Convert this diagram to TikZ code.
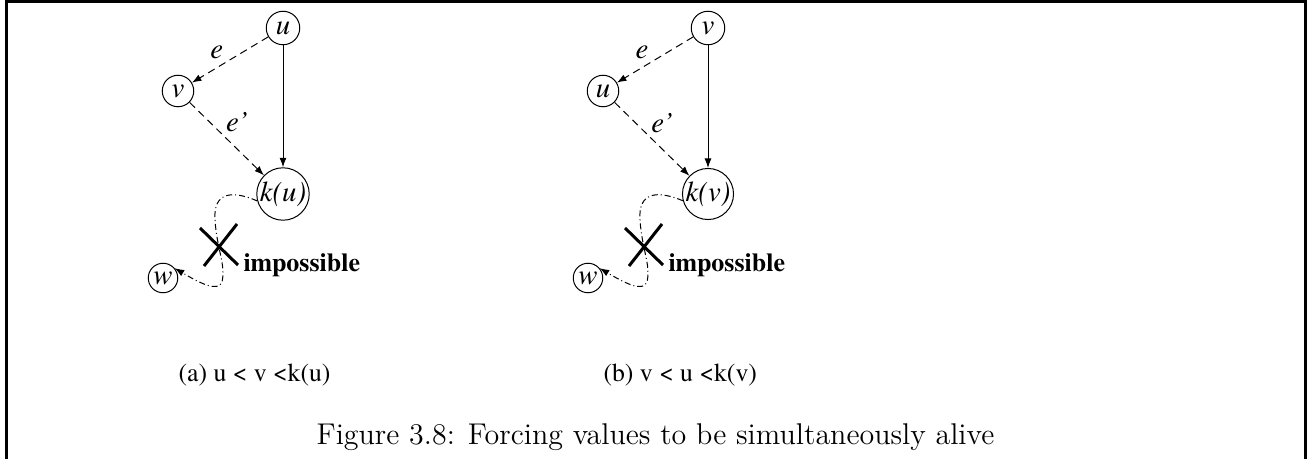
\documentclass[tikz,border=0pt]{standalone}
\usepackage{fontspec}
\setmainfont{texgyretermes}[Extension=.otf, UprightFont=*-regular, ItalicFont=*-italic, BoldFont=*-bold, BoldItalicFont=*-bolditalic]
\newfontfamily\capfont{Latin Modern Roman}
\usetikzlibrary{arrows.meta}

\begin{document}
\begin{tikzpicture}[
    x=0.4pt, y=-0.4pt,
    >={Latex[length=3.8pt, width=2.8pt]}, % small filled tips
    var/.style={circle, draw, inner sep=0pt, font=\itshape\fontsize{11.5}{13}\selectfont}, % value nodes
    lbl/.style={font=\itshape\fontsize{11.5}{13}\selectfont, inner sep=1pt}, % edge labels
    dfedge/.style={->, dash pattern=on 3pt off 2pt},
    chain/.style={->, dash pattern=on 2.4pt off 1.2pt on 0.4pt off 1.2pt},
    cross/.style={line width=1.2pt}
]
\useasboundingbox (0,0) rectangle (1307,459);

% Frame, open at the bottom
\draw[line width=1.2pt] (6,459) -- (6,2) -- (1305,2) -- (1305,459);

% The two cases, (a) and (b)
\foreach \dx/\hi/\lo/\s in {0/u/v/a, 425/v/u/b} {
  \begin{scope}[xshift={\dx*0.4pt}]
    \node[var, minimum size=13.4pt] (t\s) at (283,28) {\hi};
    \node[var, minimum size=12.6pt] (m\s) at (178,91) {\lo};
    \node[var, minimum size=19.4pt] (k\s) at (283,194) {k(\hi)};
    \node[var, minimum size=11.8pt] (w\s) at (163,278) {w};

    % Edges e and e'
    \draw[dfedge] (t\s) -- node[lbl, pos=.55, above left] {e} (m\s);
    \draw[dfedge] (m\s) -- node[lbl, pos=.45, above right] {e'} (k\s);
    \draw[->] (t\s) -- (k\s);

    % The path that cannot exist
    \draw[chain] (k\s.195) .. controls (232,190) and (213,192) .. (215,220)
        .. controls (217,250) and (226,265) .. (222,282)
        .. controls (218,293) and (198,282) .. (w\s.40);
    \draw[cross] (200,228) -- (238,265);
    \draw[cross] (237,224) -- (204,266);
    \node[anchor=west, inner sep=0pt, font=\bfseries\fontsize{10.4}{12}\selectfont] (imp\s) at (243,265) {impossible};

    % Sub-caption
    \node[anchor=west, inner sep=0pt, font=\fontsize{10.3}{12}\selectfont] (sub\s) at (178,375) {(\s) \hi{} < \lo{} <k(\hi)};
  \end{scope}
}

\node[font=\capfont\fontsize{12}{14}\selectfont] (caption) at (655.5,437) {Figure 3.8: Forcing values to be simultaneously alive};
\end{tikzpicture}
\end{document}
